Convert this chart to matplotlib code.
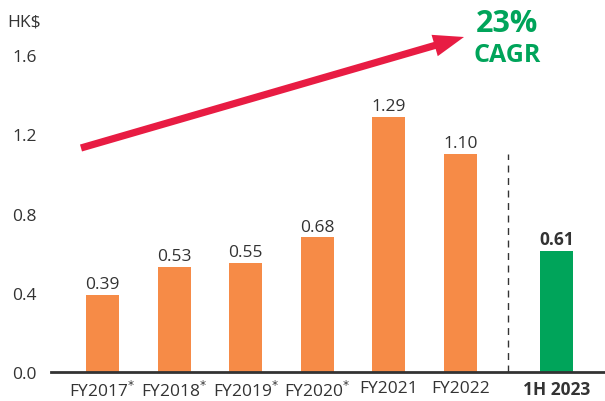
import matplotlib.pyplot as plt

categories = ['FY2017$^{*}$', 'FY2018$^{*}$', 'FY2019$^{*}$', 'FY2020$^{*}$',
              'FY2021', 'FY2022', '1H 2023']
values = [0.39, 0.53, 0.55, 0.68, 1.29, 1.10, 0.61]
positions = [0, 1, 2, 3, 4, 5, 6.34]
bar_colors = ['#F68B47'] * 6 + ['#00A45A']
value_labels = ['0.39', '0.53', '0.55', '0.68', '1.29', '1.10', '0.61']
yticks = [0.0, 0.4, 0.8, 1.2, 1.6]

plt.rcParams['font.family'] = ['Open Sans', 'DejaVu Sans']
plt.rcParams['mathtext.fontset'] = 'dejavusans'
text_col = '#333333'

fig = plt.figure(figsize=(6.05, 4.02), dpi=100)
ax = fig.add_axes([51/605, 1-373/402, 1-51/605, 363/402])

ax.bar(positions, values, width=0.46, color=bar_colors, zorder=2)
for x, v, lab in zip(positions, values, value_labels):
    bold = lab == '0.61'
    ax.annotate(lab, (x, v), xytext=(0, 2), textcoords='offset points',
                ha='center', va='bottom', fontsize=12.5, color=text_col,
                fontweight='bold' if bold else 'normal')

# divider between full years and half year
ax.plot([5.66, 5.66], [0, 1.10], color='#333333', lw=1, ls=(0, (5, 4)))

ax.set_xlim(-0.72, 7.02)
ax.set_ylim(0, 1.833)
ax.set_yticks(yticks)
ax.set_yticklabels(['%.1f' % t for t in yticks])
ax.set_xticks(positions)
ax.set_xticklabels(categories)
ax.tick_params(length=0, labelsize=12.5, colors=text_col)
ax.tick_params(axis='y', pad=10)
ax.tick_params(axis='x', pad=6)
ax.get_xticklabels()[-1].set_fontweight('bold')
for s in ['top', 'right', 'left']:
    ax.spines[s].set_visible(False)
ax.spines['bottom'].set_color('#333333')
ax.spines['bottom'].set_linewidth(2)

fig.text(7/605, 1-22/402, 'HK$', fontsize=12.5, color=text_col, va='center', ha='left')

# CAGR arrow
fig.patches.append(plt.matplotlib.patches.FancyArrowPatch(
    (81/605, 1-149/402), (464/605, 1-38/402), transform=fig.transFigure,
    arrowstyle='simple,head_length=1.1,head_width=0.8,tail_width=0.26',
    mutation_scale=20, color='#E81C43', lw=0, shrinkA=0, shrinkB=0))
fig.text(507/605, 1-24/402, '23%', fontsize=22, fontweight='bold', color='#00A45A',
         ha='center', va='center')
fig.text(507/605, 1-55/402, 'CAGR', fontsize=18, fontweight='bold', color='#00A45A',
         ha='center', va='center')

fig.savefig('out.png', dpi=100)
